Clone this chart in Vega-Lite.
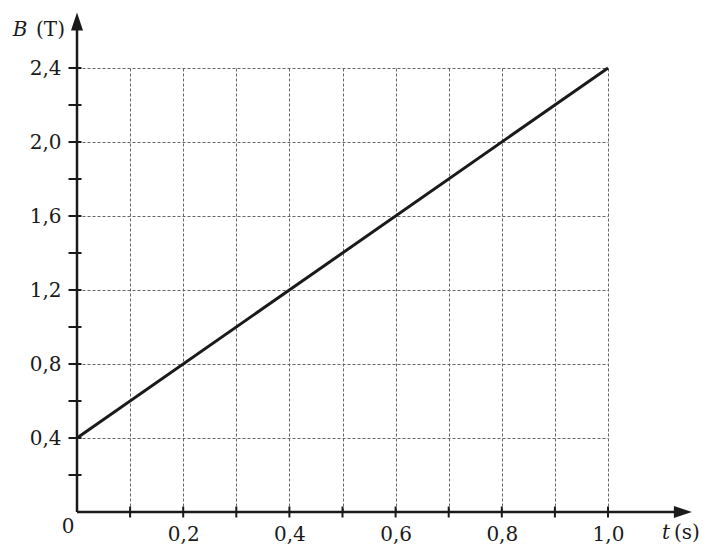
{
  "$schema": "https://vega.github.io/schema/vega-lite/v6.json",
  "width": 531,
  "height": 444,
  "autosize": {"type": "none"},
  "padding": {"left": 77, "top": 68, "right": 109, "bottom": 39},
  "background": "white",
  "config": {"view": {"stroke": null}, "font": "DejaVu Serif"},
  "datasets": {
    "line": [{"t": 0, "B": 0.4}, {"t": 1.0, "B": 2.4}],
    "xticks": [{"t": 0.1}, {"t": 0.2}, {"t": 0.3}, {"t": 0.4}, {"t": 0.5}, {"t": 0.6}, {"t": 0.7}, {"t": 0.8}, {"t": 0.9}, {"t": 1.0}],
    "yticks": [{"B": 0.2}, {"B": 0.4}, {"B": 0.6}, {"B": 0.8}, {"B": 1.0}, {"B": 1.2}, {"B": 1.4}, {"B": 1.6}, {"B": 1.8}, {"B": 2.0}, {"B": 2.2}, {"B": 2.4}],
    "one": [{}]
  },
  "layer": [
    {
      "data": {"name": "line"},
      "mark": {"type": "line", "color": "#1a1a1a", "strokeWidth": 3},
      "encoding": {
        "x": {
          "field": "t", "type": "quantitative",
          "scale": {"domain": [0, 1], "nice": false, "zero": false},
          "axis": {
            "values": [0, 0.1, 0.2, 0.3, 0.4, 0.5, 0.6, 0.7, 0.8, 0.9, 1.0],
            "title": null, "domain": false, "ticks": false, "tickSize": 0,
            "grid": true, "gridDash": [3, 2], "gridColor": "#666666", "gridWidth": 1,
            "labelExpr": "datum.value > 0.05 && round(datum.value * 10) % 2 == 0 ? replace(format(datum.value, '.1f'), '.', ',') : ''",
            "labelFont": "DejaVu Serif", "labelFontSize": 20, "labelColor": "#1a1a1a",
            "labelPadding": 12, "labelFlush": false, "labelOverlap": false, "labelBound": false
          }
        },
        "y": {
          "field": "B", "type": "quantitative",
          "scale": {"domain": [0, 2.4], "nice": false, "zero": false},
          "axis": {
            "values": [0, 0.2, 0.4, 0.6, 0.8, 1.0, 1.2, 1.4, 1.6, 1.8, 2.0, 2.2, 2.4],
            "title": null, "domain": false, "ticks": false, "tickSize": 0,
            "grid": true, "gridDash": [3, 2], "gridColor": "#666666", "gridWidth": 1,
            "labelExpr": "datum.value > 0.05 && round(datum.value * 10) % 4 == 0 ? replace(format(datum.value, '.1f'), '.', ',') : ''",
            "labelFont": "DejaVu Serif", "labelFontSize": 20, "labelColor": "#1a1a1a",
            "labelPadding": 16, "labelFlush": false, "labelOverlap": false, "labelBound": false
          }
        }
      }
    },
    {
      "data": {"name": "xticks"},
      "mark": {"type": "tick", "orient": "vertical", "size": 11, "thickness": 2, "color": "#1a1a1a", "opacity": 1},
      "encoding": {
        "x": {"field": "t", "type": "quantitative"},
        "y": {"datum": 0, "type": "quantitative"}
      }
    },
    {
      "data": {"name": "yticks"},
      "mark": {"type": "tick", "orient": "horizontal", "size": 13, "thickness": 2, "color": "#1a1a1a", "opacity": 1, "xOffset": -2},
      "encoding": {
        "x": {"datum": 0, "type": "quantitative"},
        "y": {"field": "B", "type": "quantitative"}
      }
    },
    {
      "data": {"name": "one"},
      "mark": {"type": "rule", "color": "#1a1a1a", "strokeWidth": 2.5},
      "encoding": {
        "x": {"datum": 0, "type": "quantitative"},
        "x2": {"datum": 1.14},
        "y": {"datum": 0, "type": "quantitative"}
      }
    },
    {
      "data": {"name": "one"},
      "mark": {"type": "rule", "color": "#1a1a1a", "strokeWidth": 2.5},
      "encoding": {
        "x": {"datum": 0, "type": "quantitative"},
        "y": {"datum": 0, "type": "quantitative"},
        "y2": {"datum": 2.62}
      }
    },
    {
      "data": {"name": "one"},
      "mark": {"type": "point", "shape": "M0,0 L-2,-0.67 L-2,0.67 Z", "size": 324, "filled": true, "color": "#1a1a1a", "opacity": 1, "strokeWidth": 0},
      "encoding": {
        "x": {"datum": 1.158, "type": "quantitative"},
        "y": {"datum": 0, "type": "quantitative"}
      }
    },
    {
      "data": {"name": "one"},
      "mark": {"type": "point", "shape": "M0,0 L-0.67,2 L0.67,2 Z", "size": 324, "filled": true, "color": "#1a1a1a", "opacity": 1, "strokeWidth": 0},
      "encoding": {
        "x": {"datum": 0, "type": "quantitative"},
        "y": {"datum": 2.7, "type": "quantitative"}
      }
    },
    {
      "data": {"name": "one"},
      "mark": {"type": "text", "text": "B", "fontStyle": "italic", "font": "DejaVu Serif", "fontSize": 20, "color": "#1a1a1a", "align": "center", "baseline": "middle", "dx": -57, "dy": 17},
      "encoding": {
        "x": {"datum": 0, "type": "quantitative"},
        "y": {"datum": 2.7, "type": "quantitative"}
      }
    },
    {
      "data": {"name": "one"},
      "mark": {"type": "text", "text": "(T)", "font": "DejaVu Serif", "fontSize": 20, "color": "#1a1a1a", "align": "right", "baseline": "middle", "dx": -12, "dy": 17},
      "encoding": {
        "x": {"datum": 0, "type": "quantitative"},
        "y": {"datum": 2.7, "type": "quantitative"}
      }
    },
    {
      "data": {"name": "one"},
      "mark": {"type": "text", "text": "t", "fontStyle": "italic", "font": "DejaVu Serif", "fontSize": 20, "color": "#1a1a1a", "align": "center", "baseline": "middle", "dx": -26, "dy": 21},
      "encoding": {
        "x": {"datum": 1.158, "type": "quantitative"},
        "y": {"datum": 0, "type": "quantitative"}
      }
    },
    {
      "data": {"name": "one"},
      "mark": {"type": "text", "text": "(s)", "font": "DejaVu Serif", "fontSize": 20, "color": "#1a1a1a", "align": "right", "baseline": "middle", "dx": 8, "dy": 21},
      "encoding": {
        "x": {"datum": 1.158, "type": "quantitative"},
        "y": {"datum": 0, "type": "quantitative"}
      }
    },
    {
      "data": {"name": "one"},
      "mark": {"type": "text", "text": "0", "font": "DejaVu Serif", "fontSize": 20, "color": "#1a1a1a", "align": "center", "baseline": "middle", "dx": -9, "dy": 15},
      "encoding": {
        "x": {"datum": 0, "type": "quantitative"},
        "y": {"datum": 0, "type": "quantitative"}
      }
    }
  ]
}
